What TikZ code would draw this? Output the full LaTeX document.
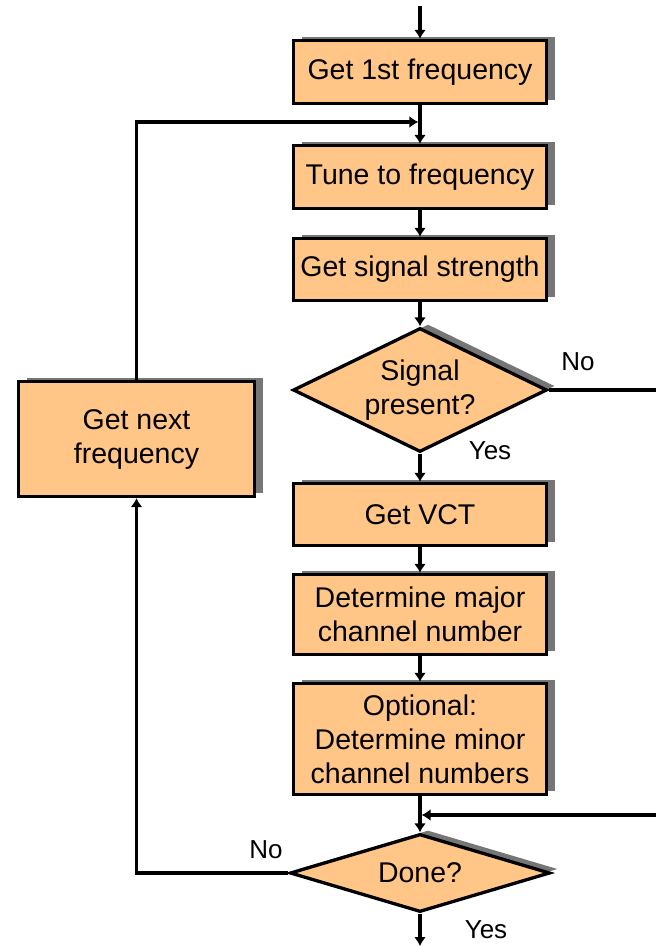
\documentclass[tikz,border=0pt]{standalone}
\usepackage{fontspec}
\setmainfont{Liberation Sans}
\usetikzlibrary{shapes.geometric,arrows.meta,shadows}
\definecolor{boxfill}{RGB}{255,198,135}
\definecolor{shadowgray}{RGB}{118,118,118}
\tikzset{
  flowbox/.style={draw=black, line width=3.3pt, fill=boxfill, rectangle, inner sep=0pt,
    minimum width=253pt, align=center, font=\fontsize{28.5}{34}\selectfont,
    general shadow={fill=shadowgray, shadow xshift=8pt, shadow yshift=4pt}},
  decision/.style={draw=black, line width=3.3pt, fill=boxfill, diamond, inner sep=0pt,
    align=center, font=\fontsize{28.5}{34}\selectfont,
    general shadow={fill=shadowgray, shadow xshift=8pt, shadow yshift=4pt}},
  conn/.style={line width=3.3pt, -{Latex[length=9pt,width=12pt]}},
  plain/.style={line width=3.3pt},
  lbl/.style={font=\fontsize{26}{30}\selectfont, inner sep=0pt}
}
\begin{document}
\begin{tikzpicture}[x=1pt,y=-1pt]
\useasboundingbox (0,0) rectangle (656,946);
% boxes
\node[flowbox, minimum height=63pt] (b1) at (420,72) {Get 1st frequency};
\node[flowbox, minimum height=63pt] (b2) at (420,177) {Tune to frequency};
\node[flowbox, minimum height=62pt] (b3) at (420,269.5) {Get signal strength};
\node[decision, minimum width=254pt, minimum height=124pt, aspect=2] (d1) at (420,390) {Signal\\present?};
\node[flowbox, minimum height=62pt] (vct) at (420,514.5) {Get VCT};
\node[flowbox, minimum height=80pt] (maj) at (420,614.5) {Determine major\\channel number};
\node[flowbox, minimum height=111pt] (min) at (420,739) {Optional:\\Determine minor\\channel numbers};
\node[decision, minimum width=260pt, minimum height=78pt, aspect=3.2] (d2) at (420,873) {Done?};
\node[flowbox, minimum width=236pt, minimum height=115pt] (gnf) at (136.5,439) {Get next\\frequency};
% coordinates
\coordinate (top) at (420,6);
\coordinate (j1) at (420,122);
\coordinate (r1) at (656,390);
\coordinate (m1) at (420,815);
\coordinate (r2) at (656,815);
\coordinate (bot) at (420,946);
% connectors
\draw[conn] (top) -- (b1.north);
\draw[conn] (b1.south) -- (b2.north);
\draw[conn, shorten >=1.6pt] (gnf.north) |- (j1);
\draw[conn] (b2.south) -- (b3.north);
\draw[conn] (b3.south) -- (d1.north);
\draw[plain] (d1.east) -- (r1);
\draw[conn] (d1.south) -- (vct.north);
\draw[conn] (vct.south) -- (maj.north);
\draw[conn] (maj.south) -- (min.north);
\draw[conn] (min.south) -- (d2.north);
\draw[conn, shorten >=1.6pt] (r2) -- (m1);
\draw[conn] (d2.south) -- (bot);
\draw[conn] (d2.west) -| (gnf.south);
% labels
\node[lbl] (no1) at (578,362) {No};
\node[lbl] (yes1) at (490,451) {Yes};
\node[lbl] (no2) at (266,850) {No};
\node[lbl] (yes2) at (486,930) {Yes};
\end{tikzpicture}
\end{document}
